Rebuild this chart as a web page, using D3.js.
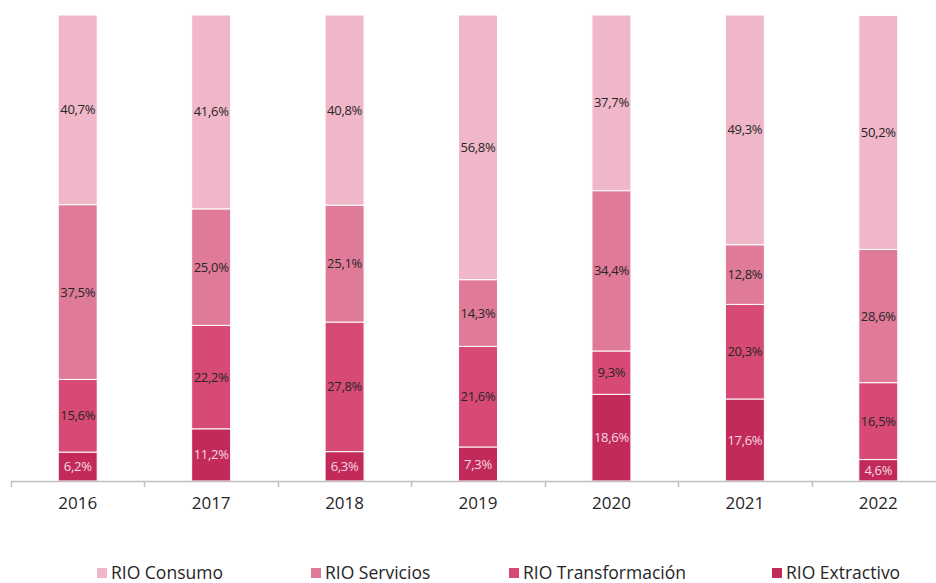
<!DOCTYPE html>
<html>
<head>
<meta charset="utf-8">
<script src="https://cdn.jsdelivr.net/npm/d3@7"></script>
<style>
  body { margin: 0; background: #fff; }
  svg text { font-family: "Open Sans", sans-serif; }
</style>
</head>
<body>
<div id="chart"></div>
<script>
// datos
var years = ["2016", "2017", "2018", "2019", "2020", "2021", "2022"];
var series = ["RIO Extractivo", "RIO Transformación", "RIO Servicios", "RIO Consumo"];
var extractivo     = [6.2, 11.2, 6.3, 7.3, 18.6, 17.6, 4.6];
var transformacion = [15.6, 22.2, 27.8, 21.6, 9.3, 20.3, 16.5];
var servicios      = [37.5, 25.0, 25.1, 14.3, 34.4, 12.8, 28.6];
var consumo        = [40.7, 41.6, 40.8, 56.8, 37.7, 49.3, 50.2];
var legendOrder = ["RIO Consumo", "RIO Servicios", "RIO Transformación", "RIO Extractivo"];

var colors = {
  "RIO Extractivo": "#C22A5A",
  "RIO Transformación": "#D64A75",
  "RIO Servicios": "#E07A99",
  "RIO Consumo": "#F0B7C8"
};

var W = 936, H = 583;
var plotTop = 15, plotBottom = 481;

var rows = years.map(function(y, i) {
  return {
    year: y,
    "RIO Extractivo": extractivo[i],
    "RIO Transformación": transformacion[i],
    "RIO Servicios": servicios[i],
    "RIO Consumo": consumo[i]
  };
});

var stacked = d3.stack().keys(series)(rows);

var x = d3.scaleBand().domain(years).range([11, 945])
  .paddingInner(0.708).paddingOuter(0.354);
var y = d3.scaleLinear().domain([0, 100]).range([plotBottom, plotTop]);

var svg = d3.select("#chart").append("svg")
  .attr("width", W).attr("height", H);

var layer = svg.selectAll(".layer").data(stacked).enter().append("g")
  .attr("class", "layer")
  .attr("fill", function(d) { return colors[d.key]; });

layer.selectAll("rect")
  .data(function(d) { return d; })
  .enter().append("rect")
  .attr("x", function(d) { return x(d.data.year); })
  .attr("width", x.bandwidth())
  .attr("y", function(d) { return y(d[1]); })
  .attr("height", function(d) { return y(d[0]) - y(d[1]); })
  .attr("stroke", "#fff")
  .attr("stroke-width", 1);

// etiquetas
layer.each(function(s) {
  d3.select(this).selectAll("text")
    .data(s)
    .enter().append("text")
    .attr("x", function(d) { return x(d.data.year) + x.bandwidth() / 2; })
    .attr("y", function(d) { return (y(d[0]) + y(d[1])) / 2; })
    .attr("dy", "0.35em")
    .attr("text-anchor", "middle")
    .attr("font-size", 13)
    .attr("letter-spacing", -0.3)
    .attr("fill", s.key == "RIO Extractivo" ? "#F6D9E3" : "#262626")
    .text(function(d) { return d.data[s.key].toFixed(1).replace(".", ",") + "%"; });
});

// eje x
var axis = svg.append("g");
axis.append("line")
  .attr("x1", 11).attr("x2", W).attr("y1", plotBottom + 0.5).attr("y2", plotBottom + 0.5)
  .attr("stroke", "#BFBFBF").attr("stroke-width", 1.5);
var bounds = years.map(function(d) { return x(d) - x.step() * x.paddingInner() / 2; });
axis.selectAll(".tick").data(bounds).enter().append("line")
  .attr("x1", function(d) { return Math.round(d) + 0.5; })
  .attr("x2", function(d) { return Math.round(d) + 0.5; })
  .attr("y1", plotBottom).attr("y2", plotBottom + 6)
  .attr("stroke", "#BFBFBF").attr("stroke-width", 1.5);
axis.selectAll(".yr").data(years).enter().append("text")
  .attr("x", function(d) { return x(d) + x.bandwidth() / 2; })
  .attr("y", 509)
  .attr("text-anchor", "middle")
  .attr("font-size", 17)
  .attr("fill", "#262626")
  .text(function(d) { return d; });

// leyenda
var legendX = [97, 311, 509, 772];
var leg = svg.selectAll(".leg").data(legendOrder).enter().append("g")
  .attr("transform", function(d, i) { return "translate(" + legendX[i] + ",568)"; });
leg.append("rect").attr("width", 10).attr("height", 10)
  .attr("fill", function(d) { return colors[d]; });
leg.append("text").attr("x", 14).attr("y", 10.5)
  .attr("font-size", 17.5).attr("fill", "#262626")
  .text(function(d) { return d; });
</script>
</body>
</html>
